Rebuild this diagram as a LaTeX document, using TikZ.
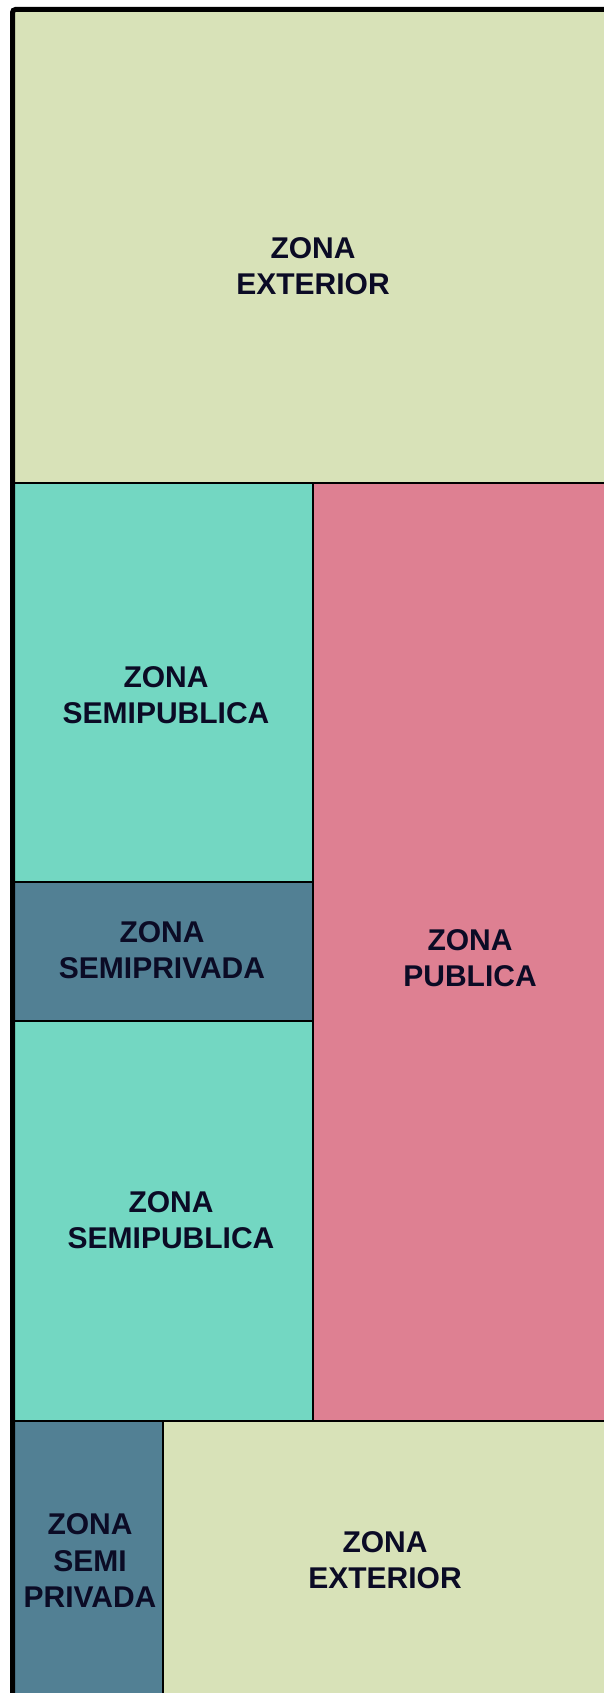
\documentclass[tikz,border=0pt]{standalone}
\usepackage{fontspec}
\setmainfont{Liberation Sans}
\definecolor{ext}{HTML}{D8E2B8}
\definecolor{spub}{HTML}{73D7C2}
\definecolor{spriv}{HTML}{528094}
\definecolor{pub}{HTML}{DE8092}
\definecolor{txt}{HTML}{0B0B25}
\begin{document}
\begin{tikzpicture}[x=1pt,y=-1pt,
  zone/.style={draw=black,line width=2pt},
  lbl/.style={text=txt,font=\fontsize{30}{36.5}\selectfont\bfseries,align=center,inner sep=0pt}]
\useasboundingbox (0,0) rectangle (604,1693);
\begin{scope}
\clip (0,0) rectangle (604,1693);
\filldraw[zone,fill=ext] (12.5,9.5) rectangle (612,483);
\filldraw[zone,fill=spub] (12.5,483) rectangle (313,882);
\filldraw[zone,fill=spriv] (12.5,882) rectangle (313,1021);
\filldraw[zone,fill=spub] (12.5,1021) rectangle (313,1421);
\filldraw[zone,fill=pub] (313,483) rectangle (612,1421);
\filldraw[zone,fill=spriv] (12.5,1421) rectangle (163,1702);
\filldraw[zone,fill=ext] (163,1421) rectangle (612,1702);
\draw[line width=5pt,rounded corners=3pt] (12.5,1702) -- (12.5,9.5) -- (612,9.5);
\end{scope}
\node[lbl] (ext1) at (313,266) {ZONA\\EXTERIOR};
\node[lbl] (spub1) at (166,695) {ZONA\\SEMIPUBLICA};
\node[lbl] (spriv1) at (162,950) {ZONA\\SEMIPRIVADA};
\node[lbl] (pub) at (470,958) {ZONA\\PUBLICA};
\node[lbl] (spub2) at (171,1220) {ZONA\\SEMIPUBLICA};
\node[lbl] (spriv2) at (90,1561) {ZONA\\SEMI\\PRIVADA};
\node[lbl] (ext2) at (385,1560) {ZONA\\EXTERIOR};
\end{tikzpicture}
\end{document}
